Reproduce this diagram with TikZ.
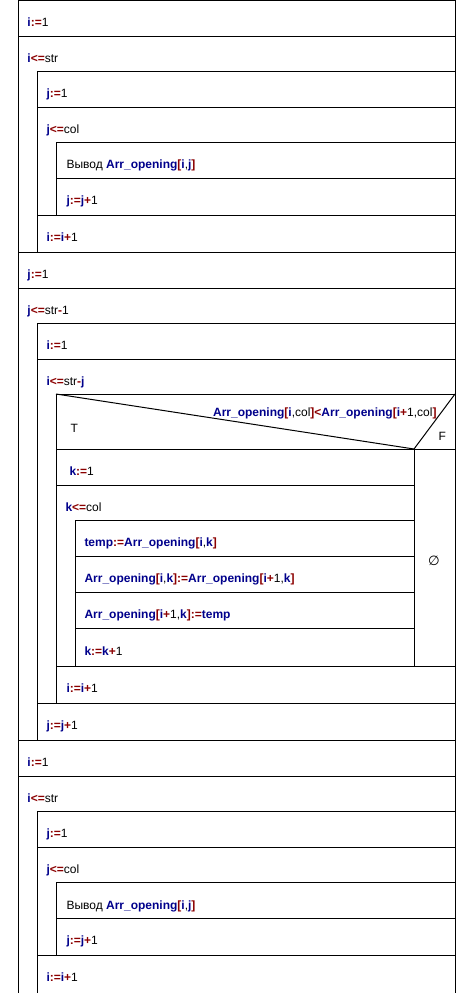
\documentclass[tikz,border=0pt]{standalone}
\usepackage{fontspec}
\setmainfont{Liberation Sans}
\newfontfamily\djv{DejaVu Sans}
\definecolor{nsblue}{RGB}{0,0,139}
\definecolor{nsred}{RGB}{139,0,0}
\newcommand\nsv[1]{{\bfseries\color{nsblue}#1}}
\newcommand\nso[1]{{\bfseries\color{nsred}#1}}
\newcommand\nsarr{\nsv{Arr\_opening}}
\begin{document}
\begin{tikzpicture}[x=0.75pt,y=-0.75pt,line width=0.75pt,
  txt/.style={anchor=base west,inner sep=0pt,font=\fontsize{9}{11}\selectfont},
  rtxt/.style={anchor=base east,inner sep=0pt,font=\fontsize{9}{11}\selectfont}]
\useasboundingbox (0,0) rectangle (456,993);
% horizontal lines
\foreach \y/\a/\b in {0.5/18/455,36/18/455,71/37/455,107/37/455,142/56/455,178/56/455,215/37/455,252/18/455,
  288/18/455,323/37/455,359/37/455,394/56/455,449/56/455,485/56/414,520/75/414,556/75/414,592/75/414,628/75/414,
  666/56/455,703/37/455,740/18/455,776/18/455,811/37/455,847/37/455,882/56/455,918/56/455,955/37/455}
  \draw (\a,\y) -- (\b,\y);
% vertical lines
\foreach \x/\a/\b in {18/0/993,455/0/993,37/71/252,37/323/740,37/811/993,56/142/215,56/394/703,56/882/955,75/520/666,414/449/666}
  \draw (\x,\a) -- (\x,\b);
% condition diagonals
\draw (56,394) -- (414,449) -- (455,394);
% texts
\node[txt] (t1) at (27,26) {\nsv{i}\nso{:=}1};
\node[txt] (t2) at (27,62) {\nsv{i}\nso{<=}str};
\node[txt] (t3) at (46,97) {\nsv{j}\nso{:=}1};
\node[txt] (t4) at (46,133) {\nsv{j}\nso{<=}col};
\node[txt] (t5) at (66,168) {Вывод \nsarr\nso{[}\nsv{i},\nsv{j}\nso{]}};
\node[txt] (t6) at (66,204) {\nsv{j}\nso{:=}\nsv{j}\nso{+}1};
\node[txt] (t7) at (46,241) {\nsv{i}\nso{:=}\nsv{i}\nso{+}1};
\node[txt] (t8) at (27,278) {\nsv{j}\nso{:=}1};
\node[txt] (t9) at (27,314) {\nsv{j}\nso{<=}str\nso{-}1};
\node[txt] (t10) at (46,349) {\nsv{i}\nso{:=}1};
\node[txt] (t11) at (46,385) {\nsv{i}\nso{<=}str\nso{-}\nsv{j}};
\node[rtxt] (cond) at (437,416) {\nsarr\nso{[}\nsv{i},col\nso{]}\nso{<}\nsarr\nso{[}\nsv{i}\nso{+}1,col\nso{]}};
\node[txt] (tT) at (70,432) {T};
\node[txt] (tF) at (438,440) {F};
\node[txt] (t13) at (69,475) {\nsv{k}\nso{:=}1};
\node[txt] (t14) at (65,511) {\nsv{k}\nso{<=}col};
\node[txt] (t15) at (84,546) {\nsv{temp}\nso{:=}\nsarr\nso{[}\nsv{i},\nsv{k}\nso{]}};
\node[txt] (t16) at (84,582) {\nsarr\nso{[}\nsv{i},\nsv{k}\nso{]}\nso{:=}\nsarr\nso{[}\nsv{i}\nso{+}1,\nsv{k}\nso{]}};
\node[txt] (t17) at (84,618) {\nsarr\nso{[}\nsv{i}\nso{+}1,\nsv{k}\nso{]}\nso{:=}\nsv{temp}};
\node[txt] (t18) at (84,655) {\nsv{k}\nso{:=}\nsv{k}\nso{+}1};
\node[inner sep=0pt,font=\djv\fontsize{10}{12}\selectfont] (empty) at (434,561) {∅};
\node[txt] (t19) at (66,692) {\nsv{i}\nso{:=}\nsv{i}\nso{+}1};
\node[txt] (t20) at (46,729) {\nsv{j}\nso{:=}\nsv{j}\nso{+}1};
\node[txt] (t21) at (27,766) {\nsv{i}\nso{:=}1};
\node[txt] (t22) at (27,802) {\nsv{i}\nso{<=}str};
\node[txt] (t23) at (46,837) {\nsv{j}\nso{:=}1};
\node[txt] (t24) at (46,873) {\nsv{j}\nso{<=}col};
\node[txt] (t25) at (66,909) {Вывод \nsarr\nso{[}\nsv{i},\nsv{j}\nso{]}};
\node[txt] (t26) at (66,944) {\nsv{j}\nso{:=}\nsv{j}\nso{+}1};
\node[txt] (t27) at (46,981) {\nsv{i}\nso{:=}\nsv{i}\nso{+}1};
\end{tikzpicture}
\end{document}
